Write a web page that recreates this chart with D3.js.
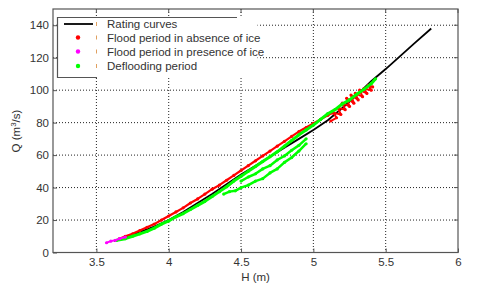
<!DOCTYPE html>
<html><head><meta charset="utf-8">
<script src="https://cdn.jsdelivr.net/npm/d3@7"></script>
<style>body{margin:0;background:#fff}svg{display:block}text{font-family:"Liberation Sans",Arial,sans-serif}</style>
</head><body><svg id="c" width="480" height="284"></svg>
<script>
const xTicks=[3.5,4,4.5,5,5.5,6];
const yTicks=[0,20,40,60,80,100,120,140];
const ratingH=[3.62,3.7,3.8,3.9,4.0,4.1,4.2,4.3,4.4,4.5,4.6,4.7,4.8,4.9,5.0,5.1,5.2,5.3,5.4,5.5,5.6,5.7,5.815];
const ratingQ=[7,9.5,12.5,16,20,25,30.5,36,42,48,53.5,59,64.5,70,75.5,81.5,89,97,105.5,113,121,129,138];
const redH=[3.66,3.7,3.75,3.8,3.85,3.9,3.95,4.0,4.05,4.1,4.15,4.2,4.25,4.3,4.35,4.4,4.45,4.5,4.55,4.6,4.65,4.7,4.75,4.8,4.85,4.9,4.95,5.0,5.05,5.1,5.13];
const redQ=[8.5,10,11.5,13.5,15.5,17.5,20,22.5,25,27.5,30.5,33,36,39,41.5,44.5,47.5,50.5,53.5,56.5,59.5,62.5,65.5,68.5,71.5,74.5,77,79.5,82,84.5,86];
const red2H=[5.12,5.16,5.14,5.19,5.17,5.22,5.2,5.25,5.23,5.28,5.26,5.31,5.29,5.34,5.32,5.37,5.35,5.4,5.38,5.41];
const red2Q=[81,83,86,85,89,88,92,90,95,92,97,94,98,96,100,98,101,100,103,102];
const magH=[3.57,3.6,3.63,3.66,3.7];
const magQ=[6,7,7.5,8.5,9.5];
const greenH=[3.64,3.7,3.75,3.8,3.85,3.9,3.95,4.0,4.05,4.1,4.15,4.2,4.25,4.3,4.35,4.4,4.45,4.5,4.55,4.6,4.65,4.7,4.75,4.8,4.85,4.9,4.95,5.0,5.05,5.1,5.15,5.2,5.25,5.3,5.35,5.4,5.43];
const greenQ=[7.5,8.5,10,11.5,13,15,17.5,19.5,22,24,26.5,29,31.5,34.5,37.5,40.5,44,47,50,53,56,59,62,65.5,69,72.5,75.5,78.5,82,85.5,88,91.5,94,97.5,100.5,104,107];
const green2H=[4.38,4.42,4.46,4.5,4.55,4.6,4.65,4.7,4.75,4.8,4.85,4.9,4.95];
const green2Q=[36,37.5,38,40,41.5,44,45.5,49,51.5,55.5,58.5,62.5,67];
const green3H=[4.5,4.55,4.6,4.65,4.7,4.75,4.8,4.85,4.9,4.95];
const green3Q=[44,46.5,48.5,51.5,53.5,57,59.5,63,66,70];
const legendLabels=["Rating curves","Flood period in absence of ice","Flood period in presence of ice","Deflooding period"];
const legendColors=["#000000","#ff0000","#ff00ff","#00ff00"];

const svg=d3.select("#c");
const L=53,R=458,T=9,B=252.5;
const x=d3.scaleLinear().domain([3.2,6]).range([L,R]);
const y=d3.scaleLinear().domain([0,150]).range([B,T]);
const zip=(a,b)=>a.map((v,i)=>[v,b[i]]);
const line=d3.line().x(d=>x(d[0])).y(d=>y(d[1]));

// grid
const g=svg.append("g");
g.selectAll(".vg").data(xTicks.filter(v=>v<6)).enter().append("line")
 .attr("x1",d=>x(d)).attr("x2",d=>x(d)).attr("y1",T).attr("y2",B)
 .attr("stroke","#222").attr("stroke-width",1).attr("stroke-dasharray","1,2");
g.selectAll(".hg").data(yTicks.filter(v=>v>0)).enter().append("line")
 .attr("x1",L).attr("x2",R).attr("y1",d=>y(d)).attr("y2",d=>y(d))
 .attr("stroke","#222").attr("stroke-width",1).attr("stroke-dasharray","1,2");

// data
svg.append("path").attr("d",line(zip(ratingH,ratingQ))).attr("fill","none").attr("stroke","#000").attr("stroke-width",1.8);
function series(H,Q,col,w){
  const pts=zip(H,Q);
  svg.append("path").attr("d",line(pts)).attr("fill","none").attr("stroke",col).attr("stroke-width",w).attr("stroke-linejoin","round");
  svg.append("g").selectAll("circle").data(pts).enter().append("circle")
   .attr("cx",d=>x(d[0])).attr("cy",d=>y(d[1])).attr("r",1.6).attr("fill",col);
}
series(redH,redQ,"#ff0000",2.2);
series(red2H,red2Q,"#ff0000",2);
series(greenH,greenQ,"#00ff00",3);
series(green2H,green2Q,"#00ff00",2.5);
series(green3H,green3Q,"#00ff00",2.5);
series(magH,magQ,"#ff00ff",2);

// axes box
const ax=svg.append("g");
ax.append("rect").attr("x",L).attr("y",T).attr("width",R-L).attr("height",B-T).attr("fill","none").attr("stroke","#555").attr("stroke-width",1.2);
const xa=d3.axisBottom(x).tickValues(xTicks).tickSize(-4).tickPadding(5).tickFormat(d3.format("~g"));
const ya=d3.axisLeft(y).tickValues(yTicks).tickSize(-4).tickPadding(4);
const gx=ax.append("g").attr("transform",`translate(0,${B})`).call(xa);
const gy=ax.append("g").attr("transform",`translate(${L},0)`).call(ya);
[gx,gy].forEach(s=>{s.select(".domain").remove();s.selectAll("line").attr("stroke","#555");s.selectAll("text").attr("fill","#333").style("font-size","11.5px");});
ax.append("g").selectAll("line").data(xTicks).enter().append("line").attr("x1",d=>x(d)).attr("x2",d=>x(d)).attr("y1",T).attr("y2",T+4).attr("stroke","#555");
ax.append("g").selectAll("line").data(yTicks).enter().append("line").attr("x1",R).attr("x2",R-4).attr("y1",d=>y(d)).attr("y2",d=>y(d)).attr("stroke","#555");

svg.append("text").attr("x",(L+R)/2).attr("y",281).attr("text-anchor","middle").attr("fill","#333").style("font-size","11.5px").text("H (m)");
const yl=svg.append("text").attr("transform","translate(20,131) rotate(-90)").attr("text-anchor","middle").attr("fill","#333").style("font-size","11.5px");
yl.append("tspan").text("Q (m");
yl.append("tspan").attr("dy",-4).style("font-size","8px").text("3");
yl.append("tspan").attr("dy",4).text("/s)");

// legend
const lg=svg.append("g");
lg.append("rect").attr("x",57.5).attr("y",17).attr("width",200).attr("height",60).attr("fill","#fff");
lg.append("path").attr("d","M97,77.5H57.5V17.5H237").attr("fill","none").attr("stroke","#555").attr("stroke-width",1.2);
const rows=[24,37.5,51.5,66];
legendLabels.forEach((t,i)=>{
  const yy=rows[i];
  if(i===0) lg.append("line").attr("x1",64).attr("x2",93).attr("y1",yy).attr("y2",yy).attr("stroke","#000").attr("stroke-width",1.8);
  else lg.append("circle").attr("cx",78).attr("cy",yy).attr("r",2.2).attr("fill",legendColors[i]);
  lg.append("line").attr("x1",96.5).attr("x2",96.5).attr("y1",yy-2).attr("y2",yy+2).attr("stroke","#e0a060").attr("stroke-width",1);
  lg.append("text").attr("x",107).attr("y",yy+4).attr("fill","#333").style("font-size","11.5px").text(t);
});
</script></body></html>
